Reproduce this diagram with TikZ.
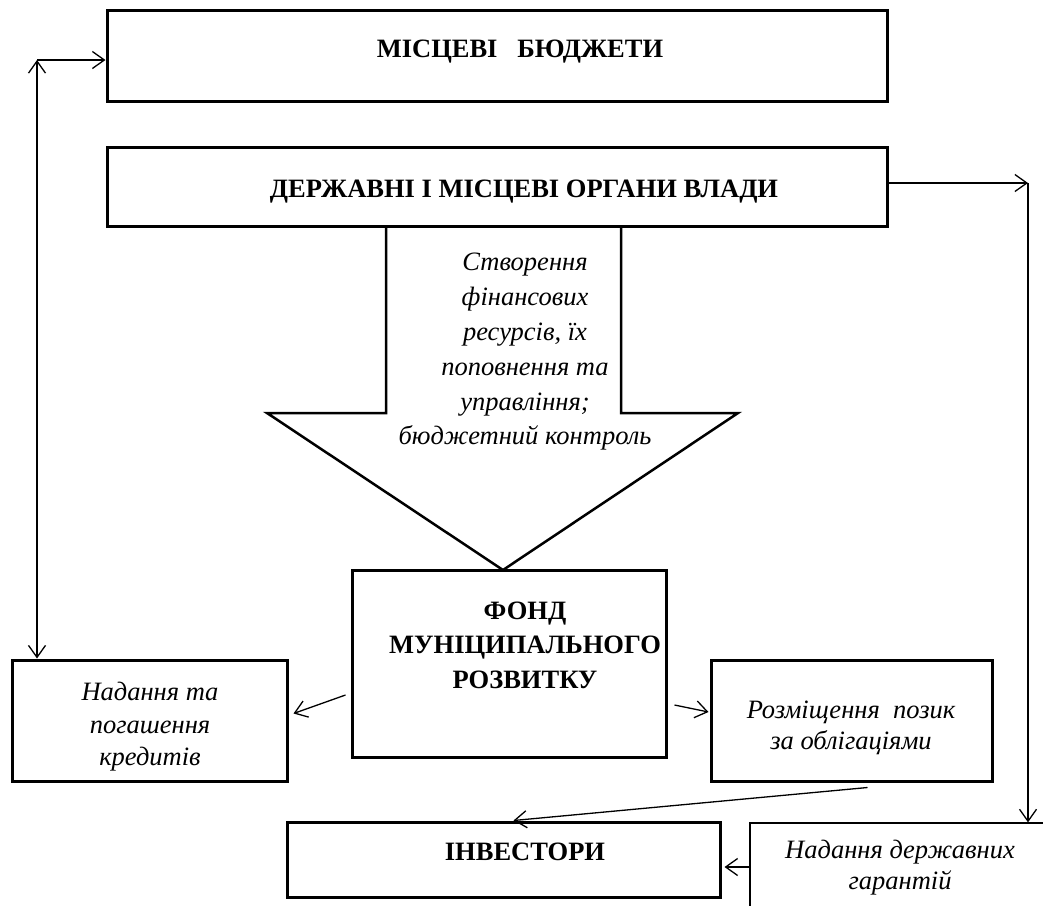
\documentclass[tikz,border=0pt]{standalone}
\usepackage{fontspec}
\setmainfont{Liberation Serif}
\usetikzlibrary{arrows.meta,calc}
\tikzset{
 box/.style={draw, line width=3pt, inner sep=0pt},
 thinbox/.style={draw, line width=1.3pt, inner sep=0pt},
 boldtxt/.style={font=\fontsize{26.5}{34.5}\selectfont\bfseries, align=center, inner sep=0pt},
 italtxt/.style={font=\fontsize{26.5}{34.8}\selectfont\itshape, align=center, inner sep=0pt},
 conn/.style={line width=1.3pt, -{Straight Barb[length=12pt,width=17pt,line width=1.3pt]}},
 connboth/.style={line width=1.3pt, {Straight Barb[length=12pt,width=17pt,line width=1.3pt]}-{Straight Barb[length=12pt,width=17pt,line width=1.3pt]}},
}
\begin{document}
\begin{tikzpicture}[x=1pt,y=-1pt]
\useasboundingbox (0,0) rectangle (1043,905);
\clip (0,0) rectangle (1043,905);
\fill[white] (0,0) rectangle (1043,905);

% boxes
\node[box, minimum width=780pt, minimum height=91pt] (budget) at (497,55.5) {};
\node[boldtxt] (budgettxt) at (520,52) {МІСЦЕВІ\ \ \ БЮДЖЕТИ};

\node[box, minimum width=780pt, minimum height=79pt] (gov) at (497,186.5) {};
\node[boldtxt] (govtxt) at (524,192) {ДЕРЖАВНІ І МІСЦЕВІ ОРГАНИ ВЛАДИ};

% big arrow shape
\draw[line width=2.5pt, line join=miter] (386,226) -- (386,413) -- (267,413) -- (503,570) -- (738,413) -- (621,413) -- (621,226);
\node[italtxt] (arrowtxt) at (525,352) {Створення\\фінансових\\ресурсів, їх\\поповнення та\\управління;\\бюджетний контроль};

\node[box, minimum width=314pt, minimum height=187pt] (fund) at (509,663.5) {};
\node[boldtxt] (fundtxt) at (525,645) {ФОНД\\МУНІЦИПАЛЬНОГО\\РОЗВИТКУ};

\node[box, minimum width=275pt, minimum height=121pt] (credit) at (149.5,720.5) {};
\node[italtxt, font=\fontsize{26.5}{32.5}\selectfont\itshape] (credittxt) at (150,727) {Надання та\\погашення\\кредитів};

\node[box, minimum width=281pt, minimum height=121pt] (bonds) at (851.5,720.5) {};
\node[italtxt, font=\fontsize{26.5}{31}\selectfont\itshape] (bondstxt) at (851,728) {Розміщення\ \ позик\\за облігаціями};

\node[box, minimum width=433pt, minimum height=75pt] (invest) at (503.5,859.5) {};
\node[boldtxt] (investtxt) at (525,852) {ІНВЕСТОРИ};

\node[thinbox, minimum width=300pt, minimum height=84pt] (guar) at (900,865) {};
\node[italtxt, font=\fontsize{26.5}{31}\selectfont\itshape] (guartxt) at (900,868) {Надання державних\\гарантій};

% connectors
\coordinate (corner) at (37,60);
\draw[connboth] (corner) -- (corner |- credit.north);
\draw[conn] (corner) -- (corner -| budget.west);

\coordinate (gr) at (1028,183);
\draw[conn] (gov.east |- gr) -- (gr);
\draw[conn] (gr) -- (gr |- guar.north);

\draw[conn] ($(fund.west)+(-5,31.5)$) -- ($(credit.east)+(5,-7)$);
\draw[conn] ($(fund.east)+(7,41.5)$) -- ($(bonds.west)+(-1,-8.5)$);
\draw[conn] ($(bonds.south)+(16,5)$) -- ($(invest.north)+(10,0)$);
\draw[conn] ($(guar.west)+(0,2)$) -- ($(invest.east)+(3,7.5)$);
\end{tikzpicture}
\end{document}
